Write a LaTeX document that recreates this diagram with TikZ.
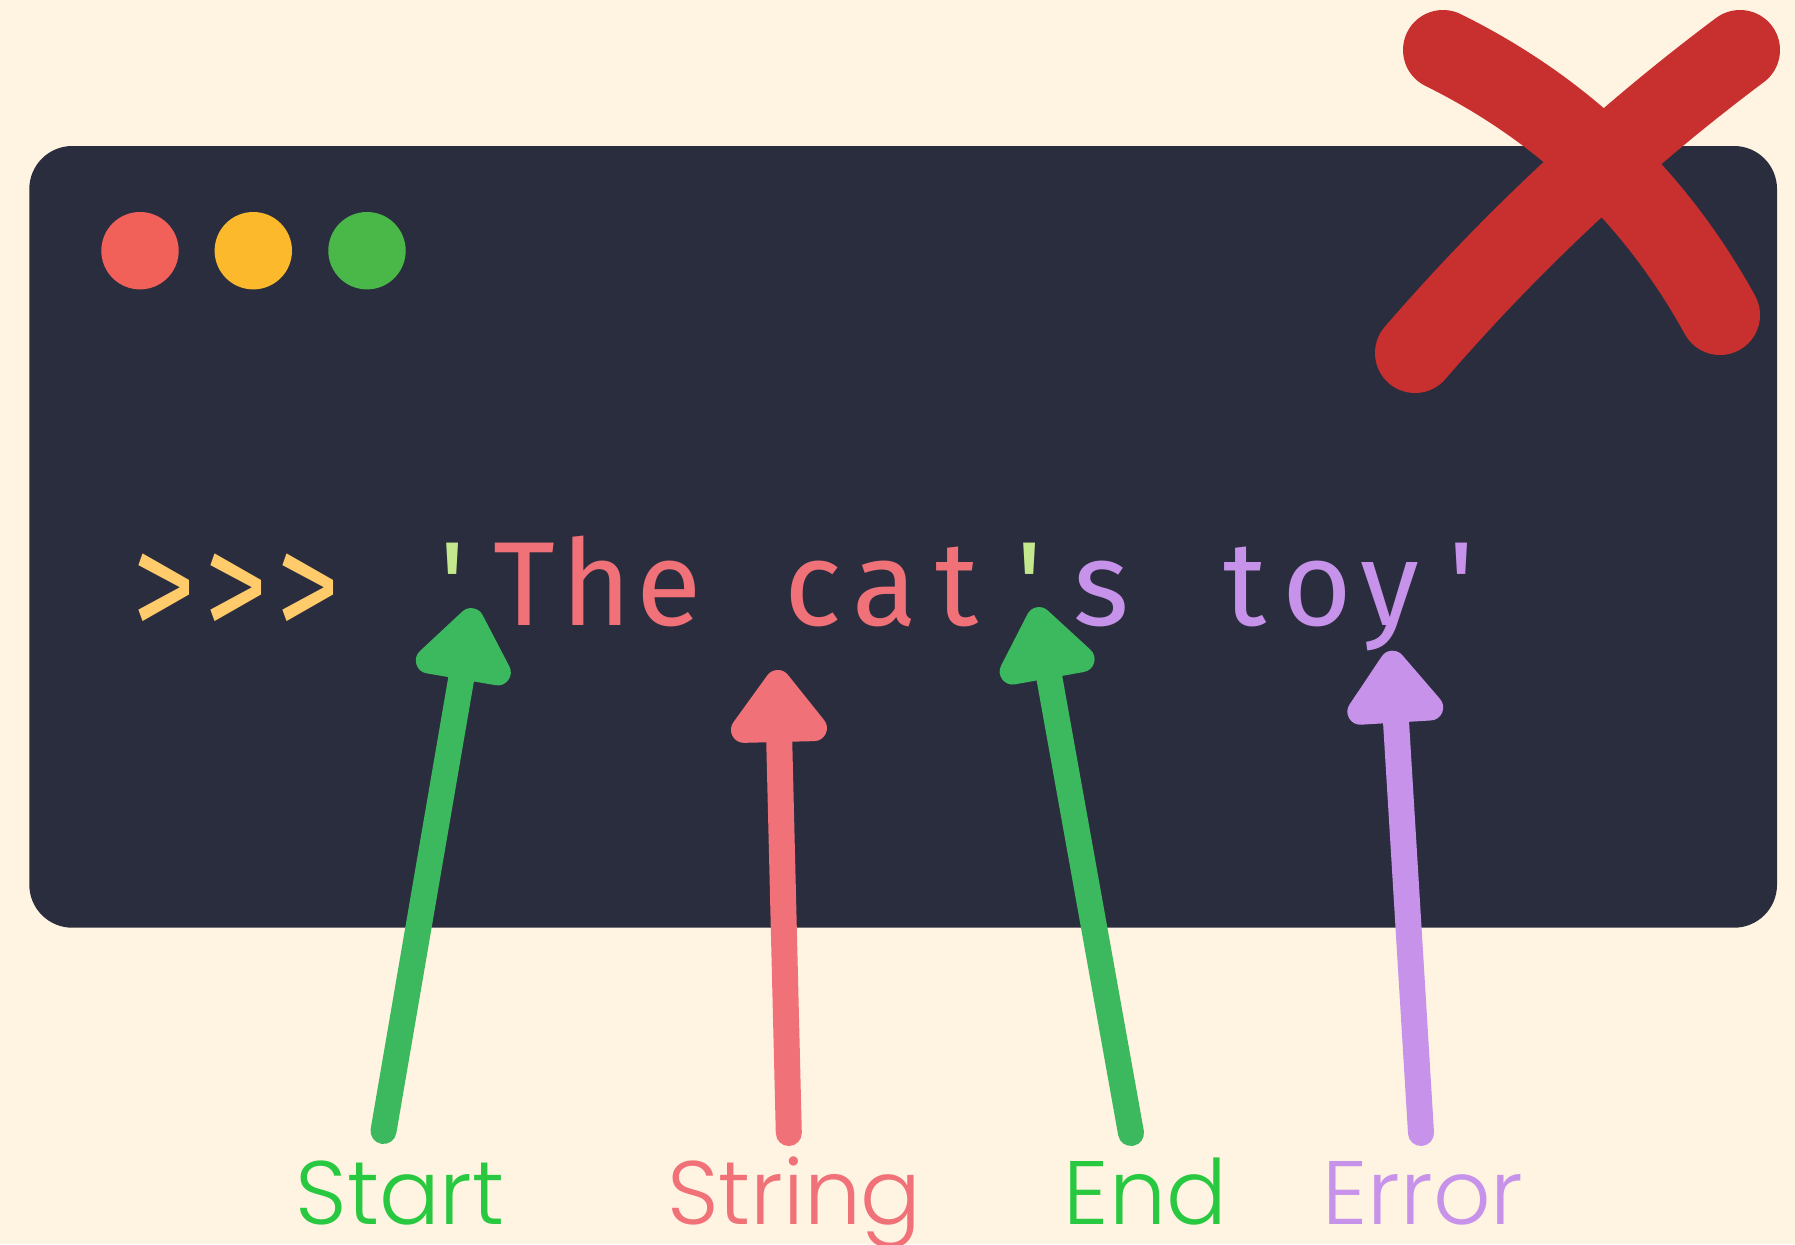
\documentclass[tikz,border=0pt]{standalone}
\usepackage{fontspec}
\usetikzlibrary{calc}
\newfontfamily\codefont[Ligatures=TeXOff]{Fira Sans}
\newfontfamily\labelfont{Poppins Light}

\definecolor{paper}{HTML}{FFF3E1}
\definecolor{term}{HTML}{2A2D3E}
\definecolor{dotred}{HTML}{F2605A}
\definecolor{dotyellow}{HTML}{FBB92B}
\definecolor{dotgreen}{HTML}{4AB849}
\definecolor{prompt}{HTML}{FFCB6B}
\definecolor{quote}{HTML}{C3E88D}
\definecolor{strred}{HTML}{F07178}
\definecolor{errpurple}{HTML}{C792EA}
\definecolor{arrowgreen}{HTML}{3CB95E}
\definecolor{labelgreen}{HTML}{28C940}
\definecolor{crossred}{HTML}{C83030}

% one fixed-width cell of the monospaced prompt line
\newcommand\cc[2]{\makebox[72.1pt][c]{\color{#1}#2}}
% the prompt chevron, drawn a little taller than the text face gives it
\newcommand\chev{\raisebox{-14.5pt}{\scalebox{1.06}[1.3]{>}}}

% thick shaft with a rounded triangular head, from tail #1 to tip #2
\newcommand\pointer[3]{%
  \draw[shaft, #3] (#1) -- ($(#2)!55pt!(#1)$);
  \filldraw[head, #3] ($(#2)!13pt!(#1)$)
    -- ($(#2)!59pt!(#1)!35pt!90:(#1)$)
    -- ($(#2)!59pt!(#1)!35pt!-90:(#1)$) -- cycle;
}

\begin{document}
\begin{tikzpicture}[x=1pt, y=-1pt,
  shaft/.style={line width=26pt, line cap=round},
  head/.style={line width=26pt, line join=round},
  trafficlight/.style={circle, minimum size=77.4pt, inner sep=0pt},
  tag/.style={font=\labelfont\fontsize{90}{100}\selectfont, anchor=base, inner sep=0pt},
  xstroke/.style={draw=crossred, line width=80pt, line cap=round}]

  % page
  \fill[paper] (0,0) rectangle (1795,1244);
  \useasboundingbox (0,0) rectangle (1795,1244);

  % terminal window
  \fill[term, rounded corners=43pt] (29.3,146) rectangle (1777,927.7);
  \node[trafficlight, fill=dotred]    (close) at (140,250.7) {};
  \node[trafficlight, fill=dotyellow] (mini)  at (253.3,250.7) {};
  \node[trafficlight, fill=dotgreen]  (zoom)  at (367,250.7) {};

  % prompt line
  \node[anchor=base west, inner sep=0pt, font=\codefont\fontsize{119.6}{125}\selectfont]
    (code) at (127.65,625)
    {\cc{prompt}{\chev}\cc{prompt}{\chev}\cc{prompt}{\chev}\cc{prompt}{}%
     \cc{quote}{'}\cc{strred}{T}\cc{strred}{h}\cc{strred}{e}\cc{strred}{}%
     \cc{strred}{c}\cc{strred}{a}\cc{strred}{t}\cc{quote}{'}%
     \cc{errpurple}{s}\cc{errpurple}{}\cc{errpurple}{t}\cc{errpurple}{o}%
     \cc{errpurple}{y}\cc{errpurple}{'}};

  % arrow ends
  \coordinate (startTip)  at (473.3,608.3);
  \coordinate (startTail) at (383.5,1131);
  \coordinate (strTip)    at (777.5,670);
  \coordinate (strTail)   at (788.8,1133);
  \coordinate (endTip)    at (1036.7,607.3);
  \coordinate (endTail)   at (1131,1133);
  \coordinate (errTip)    at (1391.7,650.7);
  \coordinate (errTail)   at (1421,1133);

  \pointer{startTail}{startTip}{arrowgreen}
  \pointer{strTail}{strTip}{strred}
  \pointer{endTail}{endTip}{arrowgreen}
  \pointer{errTail}{errTip}{errpurple}

  % labels
  \node[tag, text=labelgreen] (lblStart)  at (400,1224) {Start};
  \node[tag, text=strred]     (lblString) at (794.5,1224) {String};
  \node[tag, text=labelgreen] (lblEnd)    at (1145.4,1224) {End};
  \node[tag, text=errpurple]  (lblError)  at (1423,1224) {Error};

  % red cross
  \draw[xstroke] (1443,50) .. controls (1563,109.3) and (1655.3,197.7) .. (1720,315);
  \draw[xstroke] (1740,50) .. controls (1620.7,139.3) and (1512.4,240.3) .. (1415,353);
\end{tikzpicture}
\end{document}
